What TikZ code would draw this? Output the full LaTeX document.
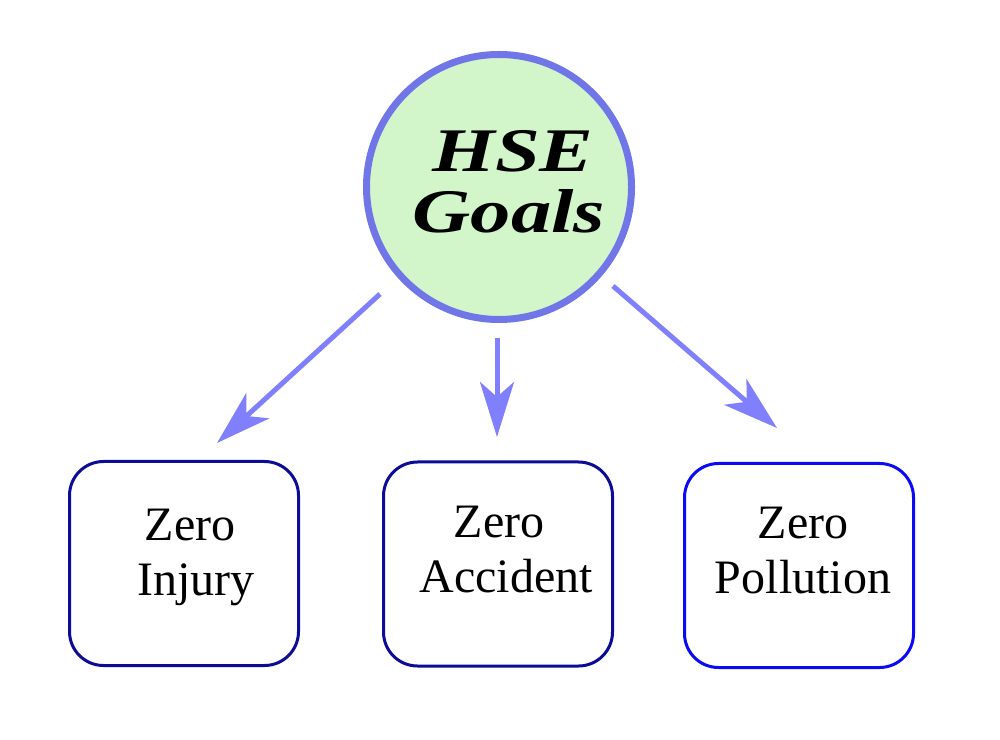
\documentclass[tikz,border=0pt]{standalone}
\usepackage{fontspec}
\setmainfont{Liberation Serif}
\usetikzlibrary{arrows.meta}
\definecolor{arrowc}{RGB}{128,128,255}
\definecolor{circc}{RGB}{112,118,232}
\definecolor{circf}{RGB}{210,246,202}
\definecolor{boxdark}{RGB}{12,12,150}
\definecolor{boxbright}{RGB}{10,10,245}
\begin{document}
\begin{tikzpicture}[x=1pt,y=1pt,
  goal/.style={circle, draw=circc, fill=circf, line width=7pt, minimum size=265pt, inner sep=0pt},
  zbox/.style={rectangle, rounded corners=34pt, line width=3pt, minimum width=229pt, minimum height=204pt, fill=white, inner sep=0pt},
  arr/.style={draw=arrowc, line width=5pt, -{Stealth[length=55pt,width=34pt,inset=15pt]}},
  title/.style={font=\bfseries\itshape\fontsize{62}{62}\selectfont, inner sep=0pt, anchor=base},
  lbl/.style={font=\fontsize{48}{48}\selectfont, inner sep=0pt, anchor=base}]
\useasboundingbox (0,0) rectangle (1000,739);
\fill[white] (0,0) rectangle (1000,739);

% central circle
\node[goal] (goals) at (499,552) {};
\node[title] (hse) at (513,567) {\scalebox{1.3}[1]{HSE}};
\node[title] (gls) at (509,506) {\scalebox{1.3}[1]{Goals}};

% boxes
\node[zbox, draw=boxdark] (b1) at (184,175.5) {};
\node[zbox, draw=boxdark] (b2) at (498,175) {};
\node[zbox, draw=boxbright] (b3) at (799,173.5) {};

\node[lbl] (t1a) at (190,199) {Zero};
\node[lbl] (t1b) at (196,144) {Injury};
\node[lbl] (t2a) at (499,202) {Zero};
\node[lbl] (t2b) at (506,147) {Accident};
\node[lbl] (t3a) at (803,201) {Zero};
\node[lbl] (t3b) at (803,146) {Pollution};

% arrows
\coordinate (s1) at (380,445);
\coordinate (e1) at (217,296);
\coordinate (s2) at (497,401);
\coordinate (e2) at (497,302);
\coordinate (s3) at (613,453);
\coordinate (e3) at (777,311);
\draw[arr] (s1) -- (e1);
\draw[arr] (s2) -- (e2);
\draw[arr] (s3) -- (e3);
\end{tikzpicture}
\end{document}
